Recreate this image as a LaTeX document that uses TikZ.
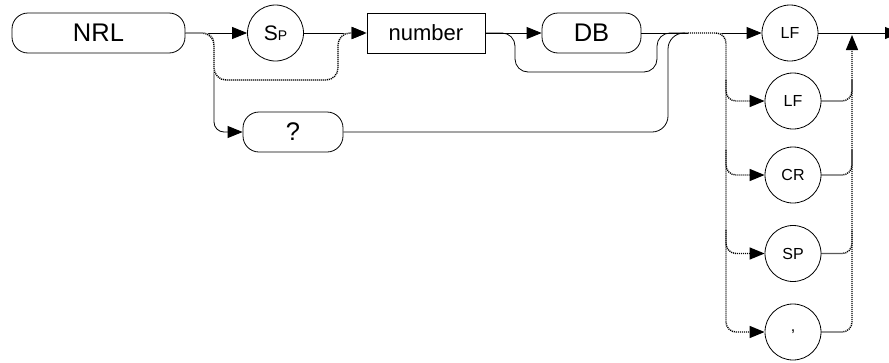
\documentclass[tikz,border=0pt]{standalone}
\usepackage{fontspec}
\setmainfont{Liberation Sans}
\usetikzlibrary{arrows.meta}
\begin{document}
\begin{tikzpicture}[x=1pt,y=-1pt, line width=0.8pt,
 pill/.style={draw, rounded corners=16pt, minimum height=40pt, inner sep=0pt, font=\fontsize{25.5}{25.5}\selectfont},
 boxnode/.style={draw, minimum height=40pt, minimum width=118pt, inner sep=0pt, font=\fontsize{22}{22}\selectfont},
 circ/.style={draw, circle, minimum size=56pt, inner sep=0pt, font=\fontsize{16}{16}\selectfont},
 arr/.style={-{Triangle[length=15pt,width=12pt]}},
 dotplain/.style={dash pattern=on 1.1pt off 0.9pt, line width=1.4pt},
 dotline/.style={preaction={draw=white, line width=2pt, solid, arrows=-}, dotplain},
]
\useasboundingbox (0,0) rectangle (889,362);
% nodes
\node[pill, minimum width=173pt] (nrl) at (98.5,33) {NRL};
\node[circ] (sp) at (275.5,33) {{\fontsize{21}{21}\selectfont S}{\fontsize{14}{14}\selectfont P}};
\node[boxnode] (num) at (426,33) {number};
\node[pill, minimum width=99pt] (db) at (591.5,33) {DB};
\node[pill, minimum width=100pt] (q) at (293,132) {?};
\node[circ] (lfa) at (790,33) {LF};
\node[circ] (lfb) at (793,101) {LF};
\node[circ] (cr) at (793,175) {CR};
\node[circ] (spb) at (793,253.5) {SP};
\node[circ] (comma) at (793,332) {,};
% solid connectors
\draw[arr] (nrl.east) -- (sp.west);
\draw[arr, rounded corners=10pt] (nrl.east) -- (214,33) -- (214,132) -- (q.west);
\draw[arr] (sp.east) -- (num.west);
\draw[arr] (num.east) -- (db.west);
\draw[rounded corners=13pt] (num.east) -- (515,33) -- (515,72) -- (657,72) -- (657,33) -- (685,33);
\draw[rounded corners=16pt] (q.east) -- (668,132) -- (668,33) -- (700,33);
\draw[arr] (db.east) -- (lfa.west);
\draw[arr] (lfa.east) -- (900,33);
% dotted connectors
\draw[dotline, arr, rounded corners=12pt] (nrl.east) -- (214,33) -- (214,80) -- (338,80) -- (338,33) -- (num.west);
\draw[dotline, arr, rounded corners=10pt] (688,33) -- (726,33) -- (726,332) -- (comma.west);
\draw[dotplain, arr, rounded corners=10pt] (726,80) -- (726,101) -- (lfb.west);
\draw[dotplain, arr, rounded corners=10pt] (726,150) -- (726,175) -- (cr.west);
\draw[dotplain, arr, rounded corners=10pt] (726,230) -- (726,253.5) -- (spb.west);
\draw[dotplain, arr, rounded corners=10pt] (comma.east) -- (852,332) -- (852,35);
\draw[dotplain, rounded corners=10pt] (lfb.east) -- (852,101) -- (852,80);
\draw[dotplain, rounded corners=10pt] (cr.east) -- (852,175) -- (852,150);
\draw[dotplain, rounded corners=10pt] (spb.east) -- (852,253.5) -- (852,230);
\end{tikzpicture}
\end{document}
